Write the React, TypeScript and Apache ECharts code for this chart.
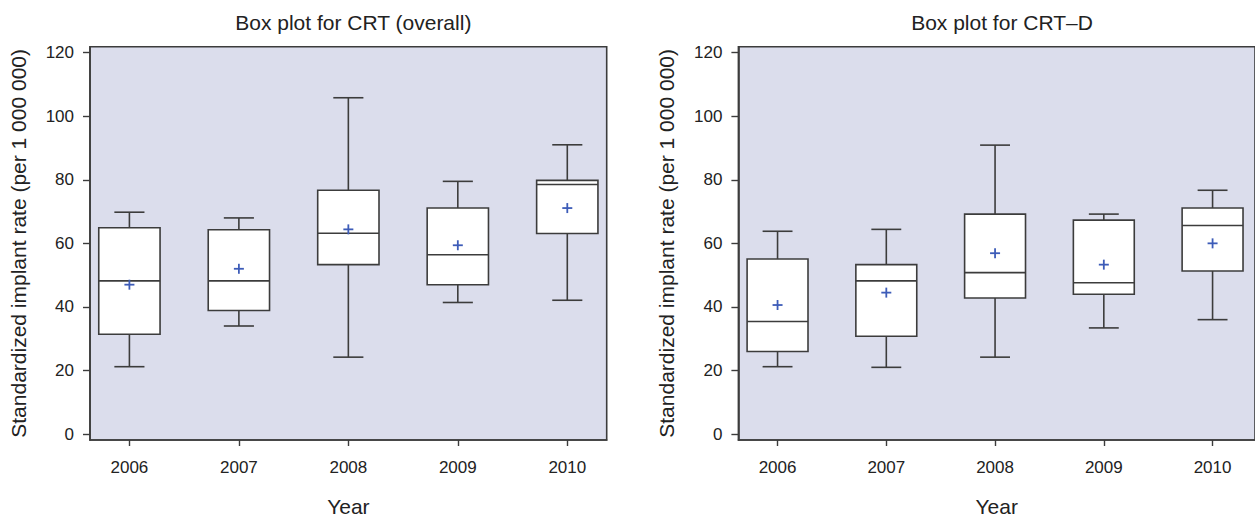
import React, { useEffect, useRef } from "react";
import * as echarts from "echarts";

const years = [2006, 2007, 2008, 2009, 2010];
const yTicks = [0, 20, 40, 60, 80, 100, 120];

const crtMin = [21.2, 34.0, 24.2, 41.4, 42.1];
const crtQ1 = [31.4, 38.9, 53.3, 47.0, 63.1];
const crtMedian = [48.2, 48.2, 63.2, 56.4, 78.5];
const crtQ3 = [64.9, 64.3, 76.7, 71.1, 79.8];
const crtMax = [69.8, 68.0, 105.8, 79.5, 91.0];
const crtMean = [47.0, 52.0, 64.4, 59.4, 71.1];

const crtdMin = [21.2, 21.0, 24.2, 33.4, 36.0];
const crtdQ1 = [26.0, 30.8, 42.8, 44.0, 51.3];
const crtdMedian = [35.4, 48.2, 50.8, 47.6, 65.6];
const crtdQ3 = [55.1, 53.3, 69.2, 67.3, 71.1];
const crtdMax = [63.8, 64.4, 90.9, 69.2, 76.7];
const crtdMean = [40.6, 44.5, 56.9, 53.3, 60.0];

const FONT = "Liberation Sans, Arial, sans-serif";
const TEXT = "#222";
const LINE = "#3c3c3c";
const BOX_W = 0.56;
const CAP_W = 0.275;

function rows(mn: number[], q1: number[], md: number[], q3: number[], mx: number[], mean: number[]) {
  return years.map((y, i) => [y, mn[i], q1[i], md[i], q3[i], mx[i], mean[i]]);
}

const renderBox = (params: any, api: any) => {
  const x = api.value(0);
  const lo = api.coord([x, api.value(1)]);
  const q1 = api.coord([x, api.value(2)]);
  const md = api.coord([x, api.value(3)]);
  const q3 = api.coord([x, api.value(4)]);
  const hi = api.coord([x, api.value(5)]);
  const mean = api.coord([x, api.value(6)]);
  const half = api.size([BOX_W, 0])[0] / 2;
  const cap = api.size([CAP_W, 0])[0] / 2;
  const cx = lo[0];
  const st = { stroke: LINE, lineWidth: 1.6 };
  const mk = 5;
  return {
    type: "group",
    children: [
      { type: "line", shape: { x1: cx, y1: lo[1], x2: cx, y2: q1[1] }, style: st },
      { type: "line", shape: { x1: cx, y1: q3[1], x2: cx, y2: hi[1] }, style: st },
      { type: "line", shape: { x1: cx - cap, y1: lo[1], x2: cx + cap, y2: lo[1] }, style: st },
      { type: "line", shape: { x1: cx - cap, y1: hi[1], x2: cx + cap, y2: hi[1] }, style: st },
      {
        type: "rect",
        shape: { x: cx - half, y: q3[1], width: half * 2, height: q1[1] - q3[1] },
        style: { fill: "#ffffff", stroke: LINE, lineWidth: 1.6 },
      },
      { type: "line", shape: { x1: cx - half, y1: md[1], x2: cx + half, y2: md[1] }, style: st },
      {
        type: "line",
        shape: { x1: cx - mk, y1: mean[1], x2: cx + mk, y2: mean[1] },
        style: { stroke: "#3d5cb8", lineWidth: 1.8 },
      },
      {
        type: "line",
        shape: { x1: cx, y1: mean[1] - mk, x2: cx, y2: mean[1] + mk },
        style: { stroke: "#3d5cb8", lineWidth: 1.8 },
      },
    ],
  };
};

function xAxisCfg(gridIndex: number) {
  return {
    type: "value",
    gridIndex,
    min: 2005.64,
    max: 2010.36,
    name: "Year",
    nameLocation: "middle",
    nameGap: 56,
    nameTextStyle: { fontFamily: FONT, fontSize: 21, color: TEXT },
    axisLine: { show: true, onZero: false, lineStyle: { color: LINE, width: 1.6 } },
    axisTick: { show: true, length: 6, customValues: years, lineStyle: { color: LINE, width: 1.4 } },
    axisLabel: {
      customValues: years,
      margin: 19,
      fontFamily: FONT,
      fontSize: 17,
      color: TEXT,
      formatter: (v: number) => String(Math.round(v)),
    },
    splitLine: { show: false },
  };
}

function yAxisCfg(gridIndex: number) {
  return {
    type: "value",
    gridIndex,
    min: -1.86,
    max: 121.86,
    name: "Standardized implant rate (per 1 000 000)",
    nameLocation: "middle",
    nameGap: 61,
    nameTextStyle: { fontFamily: FONT, fontSize: 21, color: TEXT },
    axisLine: { show: true, onZero: false, lineStyle: { color: LINE, width: 1.6 } },
    axisTick: { show: true, length: 7, customValues: yTicks, lineStyle: { color: LINE, width: 1.4 } },
    axisLabel: {
      customValues: yTicks,
      margin: 16,
      fontFamily: FONT,
      fontSize: 17,
      color: TEXT,
    },
    splitLine: { show: false },
  };
}

export default function App() {
  const ref = useRef<HTMLDivElement>(null);
  useEffect(() => {
    if (!ref.current) return;
    const chart = echarts.init(ref.current, null, { renderer: "svg" });
    const gridStyle = {
      show: true,
      backgroundColor: "#dbddec",
      borderColor: LINE,
      borderWidth: 1.6,
      top: 46.7,
      height: 399.3,
      width: 516.7,
      containLabel: false,
    };
    chart.setOption({
      animation: false,
      title: [
        {
          text: "Box plot for CRT (overall)",
          left: 348.3,
          top: 7,
          textAlign: "center",
          textStyle: { fontFamily: FONT, fontSize: 21, fontWeight: "normal", color: TEXT },
        },
        {
          text: "Box plot for CRT\u2013D",
          left: 997,
          top: 7,
          textAlign: "center",
          textStyle: { fontFamily: FONT, fontSize: 21, fontWeight: "normal", color: TEXT },
        },
      ],
      grid: [
        { ...gridStyle, left: 90 },
        { ...gridStyle, left: 738.4, width: 520 },
      ],
      xAxis: [xAxisCfg(0), { ...xAxisCfg(1), max: 2010.36 + (520 - 516.7) / 109.5 }],
      yAxis: [yAxisCfg(0), yAxisCfg(1)],
      series: [
        {
          type: "custom",
          xAxisIndex: 0,
          yAxisIndex: 0,
          renderItem: renderBox,
          encode: { x: 0, y: [1, 2, 3, 4, 5, 6] },
          data: rows(crtMin, crtQ1, crtMedian, crtQ3, crtMax, crtMean),
        },
        {
          type: "custom",
          xAxisIndex: 1,
          yAxisIndex: 1,
          renderItem: renderBox,
          encode: { x: 0, y: [1, 2, 3, 4, 5, 6] },
          data: rows(crtdMin, crtdQ1, crtdMedian, crtdQ3, crtdMax, crtdMean),
        },
      ],
    });
    return () => chart.dispose();
  }, []);
  return (
    <div
      ref={ref}
      style={{ position: "fixed", left: 0, top: 0, width: 1255, height: 522, background: "#fff" }}
    />
  );
}
